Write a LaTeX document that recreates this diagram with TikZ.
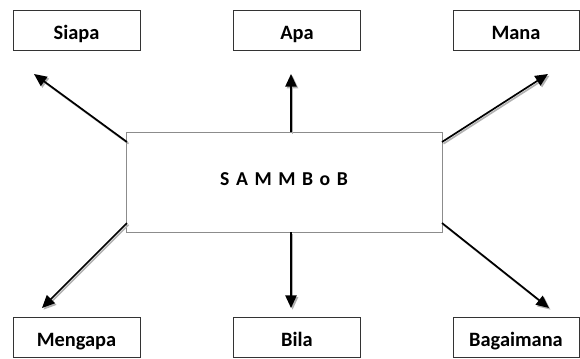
\documentclass[tikz,border=0pt]{standalone}
\usepackage{fontspec}
\setmainfont{Carlito}
\usetikzlibrary{arrows.meta}
\tikzset{
  kotak/.style={draw=black!80, line width=0.6pt, minimum width=3.175cm, minimum height=1cm,
    inner sep=0pt, text height=13pt, text depth=0pt, font=\fontsize{14.5}{17}\selectfont\bfseries},
  pusat/.style={draw=black!45, line width=0.6pt, minimum width=7.9cm, minimum height=2.5cm,
    inner sep=0pt, text height=9pt, text depth=3.4pt, font=\fontsize{14}{17}\selectfont\bfseries},
  panah/.style={line width=1.2pt, -{Triangle[length=9pt,width=8pt]},
    preaction={draw=black!30, line width=1.2pt, transform canvas={shift={(1.1pt,-1.2pt)}}}}
}
\begin{document}
\begin{tikzpicture}[x=0.025cm,y=-0.025cm]
\useasboundingbox (0,0) rectangle (580,358);

% Drawing main box
\node [pusat] (sammbob) at (284,182) {S\,\,A\,\,M\,\,M\,\,B\,\,o\,\,B};

% Drawing question boxes
\node [kotak] (siapa) at (76.5,30) {Siapa};
\node [kotak] (apa) at (297,30) {Apa};
\node [kotak, minimum width=3.15cm] (mana) at (516,30) {Mana};
\node [kotak] (mengapa) at (76.5,337.5) {Mengapa};
\node [kotak] (bila) at (297,337.5) {Bila};
\node [kotak, minimum width=3.15cm] (bagaimana) at (516,337.5) {Bagaimana};

% Arrow ends
\coordinate (siapa-a) at (127,142);
\coordinate (siapa-b) at (34,74);
\coordinate (apa-a) at (291,132);
\coordinate (apa-b) at (291,74);
\coordinate (mana-a) at (442,142);
\coordinate (mana-b) at (548,74);
\coordinate (mengapa-a) at (127,223);
\coordinate (mengapa-b) at (42,308);
\coordinate (bila-a) at (291,232);
\coordinate (bila-b) at (291,308);
\coordinate (bagaimana-a) at (442,223);
\coordinate (bagaimana-b) at (549,308);

% Drawing arrows
\draw [panah] (siapa-a) -- (siapa-b);
\draw [panah] (apa-a) -- (apa-b);
\draw [panah] (mana-a) -- (mana-b);
\draw [panah] (mengapa-a) -- (mengapa-b);
\draw [panah] (bila-a) -- (bila-b);
\draw [panah] (bagaimana-a) -- (bagaimana-b);
\end{tikzpicture}
\end{document}
